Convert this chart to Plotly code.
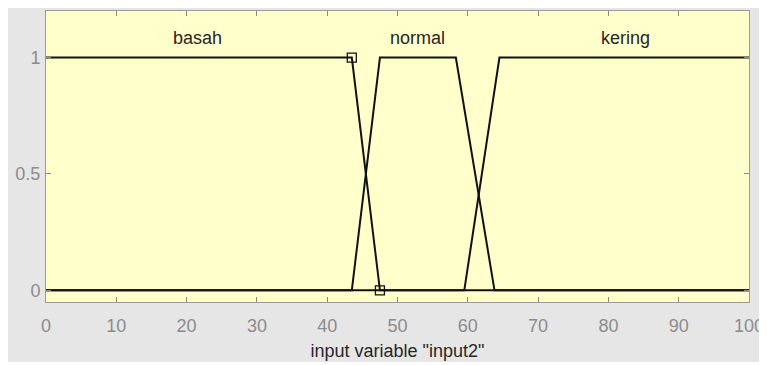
import plotly.graph_objects as go

# Membership functions (trapezoid parameters a, b, c, d)
mf_names = ["basah", "normal", "kering"]
basah_params = [0, 0, 43.5, 47.5]
normal_params = [43.5, 47.5, 58.3, 63.8]
kering_params = [59.5, 64.5, 100, 100]
x_range = [0, 100]
label_x = [21.5, 52.9, 82.5]
label_y = 1.085
x_ticks = [0, 10, 20, 30, 40, 50, 60, 70, 80, 90, 100]
y_ticks = [0, 0.5, 1]
y_tick_text = ["0", "0.5", "1"]
marker_x = [43.5, 47.5]
marker_y = [1, 0]
x_title = 'input variable "input2"'


def trap_points(p, lo, hi):
    a, b, c, d = p
    xs, ys = [], []
    for x in [lo, a, b, c, d, hi]:
        if x < lo or x > hi:
            continue
        if x == a and a == b:
            y = 1.0
        elif x == d and c == d:
            y = 1.0
        elif x <= a:
            y = 0.0
        elif x < b:
            y = (x - a) / (b - a)
        elif x <= c:
            y = 1.0
        elif x < d:
            y = (d - x) / (d - c)
        else:
            y = 0.0
        xs.append(x)
        ys.append(y)
    return xs, ys


fig = go.Figure()
for name, p in zip(mf_names, [basah_params, normal_params, kering_params]):
    xs, ys = trap_points(p, x_range[0], x_range[1])
    fig.add_trace(go.Scatter(x=xs, y=ys, mode="lines", name=name,
                             line=dict(color="#111111", width=2),
                             showlegend=False, cliponaxis=False))

fig.add_trace(go.Scatter(x=marker_x, y=marker_y, mode="markers",
                         marker=dict(symbol="square-open", size=9,
                                     color="#111111", line=dict(width=1.3)),
                         showlegend=False, cliponaxis=False))

for name, lx in zip(mf_names, label_x):
    fig.add_annotation(x=lx, y=label_y, text=name, showarrow=False,
                       font=dict(family="Liberation Sans, Arial", size=18,
                                 color="#262626"))

W, H = 759, 354
L, R, T, B = 38, 18, 3, 60

axis_common = dict(
    showgrid=False, zeroline=False, ticks="inside", ticklen=5,
    tickcolor="#8a8a8a", tickwidth=1, showline=True, linecolor="#9a9a9a",
    linewidth=1, mirror="ticks",
    tickfont=dict(family="Liberation Sans, Arial", size=18, color="#8c8c8c"),
)

fig.update_xaxes(range=x_range, tickvals=x_ticks, ticklabelstandoff=7,
                 **axis_common,
                 title=dict(text=x_title, standoff=9,
                            font=dict(family="Liberation Sans, Arial", size=18,
                                      color="#262626")))
fig.update_yaxes(range=[-0.05, 1.2], tickvals=y_ticks, ticktext=y_tick_text,
                 ticklabelstandoff=1, **axis_common)

fig.update_layout(
    width=W, height=H,
    margin=dict(l=L, r=R, t=T, b=B, pad=0),
    paper_bgcolor="#E6E6E6",
    plot_bgcolor="#FFFFCC",
)

fig.write_html("out.html")
